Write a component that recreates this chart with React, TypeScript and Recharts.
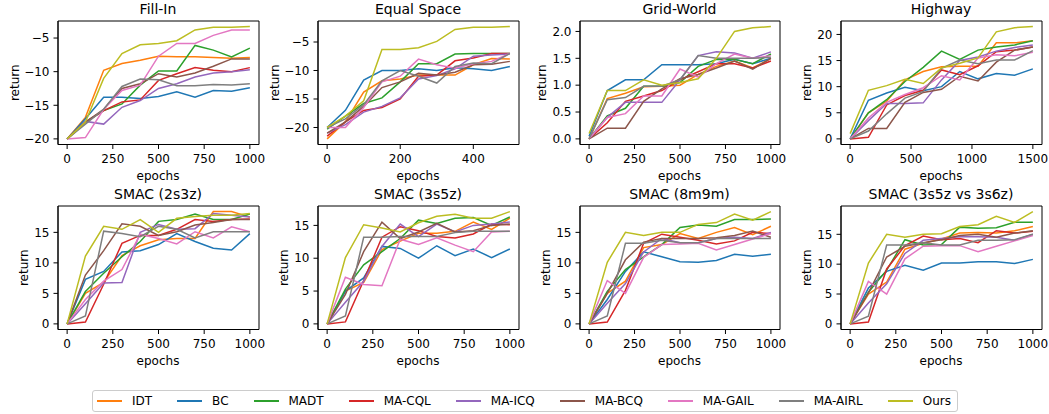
import React from "react";
import { LineChart, Line, XAxis, YAxis, ReferenceArea } from "recharts";

const METHODS = ["IDT", "BC", "MADT", "MA-CQL", "MA-ICQ", "MA-BCQ", "MA-GAIL", "MA-AIRL", "Ours"];
const COLORS = ["#ff7f0e", "#1f77b4", "#2ca02c", "#d62728", "#9467bd", "#8c564b", "#e377c2", "#7f7f7f", "#bcbd22"];

const EPOCHS_1000 = [0, 100, 200, 300, 400, 500, 600, 700, 800, 900, 1000];
const EPOCHS_500 = [0, 50, 100, 150, 200, 250, 300, 350, 400, 450, 500];
const EPOCHS_1500 = [0, 150, 300, 450, 600, 750, 900, 1050, 1200, 1350, 1500];

const X_TICKS_1000 = [0, 250, 500, 750, 1000];
const X_TICKS_500 = [0, 200, 400];
const X_TICKS_1500 = [0, 500, 1000, 1500];
const Y_TICKS_NEG = [-20, -15, -10, -5];
const Y_TICKS_GRID = [0, 0.5, 1, 1.5, 2];
const Y_TICKS_HIGHWAY = [0, 5, 10, 15, 20];
const Y_TICKS_SMAC = [0, 5, 10, 15];

// series order follows METHODS
const FILL_IN = [
  [-20, -16.8, -9.8, -8.8, -8.3, -7.7, -7.8, -7.8, -7.9, -8.0, -7.9],
  [-20, -17, -13.8, -13.8, -14, -13.7, -13, -13.8, -12.8, -12.9, -12.4],
  [-20, -17.5, -15.8, -14.8, -12, -9.9, -9.9, -6.1, -6.8, -7.8, -6.5],
  [-20, -17.5, -15.8, -14.5, -14.2, -11.3, -10.3, -9.4, -9.8, -10, -9.4],
  [-20, -17.4, -17.8, -15.3, -14.3, -12.5, -11.8, -10.8, -10.2, -10, -9.7],
  [-20, -17.5, -15.6, -12.5, -11.8, -10.3, -10.8, -10.2, -9.2, -8.1, -8.1],
  [-20, -19.8, -15.6, -12.8, -12, -7.7, -5.8, -5.8, -4.6, -3.8, -3.8],
  [-20, -17.8, -15.6, -12.2, -11.1, -11.2, -12.1, -12.1, -11.9, -12, -11.8],
  [-20, -17.5, -11, -7.3, -6, -5.8, -5.4, -3.8, -3.4, -3.4, -3.3],
];

const EQUAL_SPACE = [
  [-22, -19, -13.8, -11.8, -11.5, -10.8, -10.8, -10.8, -9, -7.9, -8],
  [-20, -17, -11.7, -10, -10, -9.7, -10, -9.5, -9.7, -10, -9.3],
  [-20.3, -18, -15.8, -14.8, -12, -8.8, -8.8, -7.1, -7, -7, -7],
  [-21.5, -19, -17, -16.5, -15, -11, -10.8, -8.3, -7.8, -7, -7],
  [-21, -19.5, -17.3, -16.3, -14.8, -11.5, -10.9, -9.7, -7.5, -7.3, -7.1],
  [-21, -19, -16.3, -13, -12, -10.5, -10.8, -10.3, -9, -8.9, -8.4],
  [-20, -20, -16.5, -12, -11, -8, -9, -9.6, -8.8, -8.4, -7],
  [-20, -18.5, -16, -11.8, -10, -11, -12.2, -9.3, -8.7, -8.8, -7],
  [-20, -18, -15.3, -6.3, -6.3, -6, -4.9, -2.8, -2.4, -2.4, -2.3],
];

const GRID_WORLD = [
  [0, 0.75, 0.85, 0.97, 0.98, 1.0, 1.2, 1.35, 1.45, 1.32, 1.5],
  [0.05, 0.9, 1.1, 1.1, 1.38, 1.38, 1.38, 1.4, 1.48, 1.4, 1.5],
  [0, 0.43, 0.57, 0.98, 0.98, 1.05, 1.35, 1.48, 1.48, 1.4, 1.58],
  [0, 0.3, 0.7, 0.8, 0.9, 1.1, 1.25, 1.4, 1.4, 1.32, 1.45],
  [0, 0.4, 0.68, 0.68, 0.68, 1.1, 1.55, 1.62, 1.6, 1.5, 1.62],
  [0, 0.2, 0.2, 0.7, 0.93, 1.12, 1.2, 1.32, 1.45, 1.3, 1.5],
  [0, 0.4, 0.47, 0.8, 0.8, 1.3, 1.15, 1.4, 1.58, 1.5, 1.55],
  [0, 0.73, 0.77, 0.98, 0.98, 1.1, 1.55, 1.5, 1.5, 1.5, 1.52],
  [0.1, 0.9, 0.9, 1.1, 1.0, 1.05, 1.12, 1.5, 2.0, 2.07, 2.09],
];

const HIGHWAY = [
  [0, 5, 7.2, 11.3, 12.9, 13.8, 13.9, 13.9, 18.4, 18.4, 18.8],
  [0, 7.4, 8.8, 9.9, 9.2, 10, 12.9, 11.5, 12.5, 12.2, 13.4],
  [0, 5, 7.5, 11, 13.7, 16.8, 15.2, 17, 17.6, 18, 18.8],
  [0, 0.3, 6.5, 8.3, 9.3, 13.2, 12.3, 14, 16.7, 17, 17.6],
  [0, 3.5, 6.8, 6.8, 6.9, 11.3, 15, 15.7, 16.8, 17.5, 18],
  [0, 2, 2, 7, 8.9, 9.5, 12, 11.1, 14.7, 17, 17.6],
  [0, 4, 7, 8.5, 9.8, 12.1, 11.3, 15.5, 16.1, 15.9, 16.6],
  [0, 1.5, 4.8, 7.8, 9.1, 13.5, 15.1, 14.4, 15.1, 15.1, 16.9],
  [1, 9.3, 10.2, 11.4, 10.6, 13.6, 14.5, 15.5, 20.5, 21.3, 21.5],
];

const SMAC_2S3Z = [
  [0, 5, 6.8, 11.2, 12.8, 13.8, 14, 14, 18.4, 18.4, 17.5],
  [0, 7.3, 8.6, 11.8, 12, 13, 14.8, 13.5, 12.4, 12.1, 14.8],
  [0, 5.3, 8.3, 11, 13.5, 16.8, 17.1, 18, 17.1, 17.1, 18],
  [0, 0.3, 6.5, 13.2, 14.5, 14.5, 15.5, 17.1, 16.8, 17.1, 17.2],
  [0, 3.3, 6.7, 6.8, 15, 16.3, 15.5, 15.6, 18.1, 17.8, 17.5],
  [0, 8, 12, 16.4, 16, 14.5, 15.1, 16.2, 16.6, 17.1, 17.1],
  [0, 4, 7, 8.9, 14.7, 14, 13.1, 15.1, 14.1, 15.9, 15.1],
  [0, 1.3, 15.2, 14.8, 14.3, 16, 15.5, 14.1, 15.1, 15.1, 15.1],
  [0, 11.1, 16, 15.5, 17.1, 15, 17.3, 17.6, 17.8, 17.8, 18.1],
];

const SMAC_3S5Z = [
  [0, 5, 6.3, 11.3, 12.6, 13.8, 13.8, 14.1, 15.5, 14.4, 16.1],
  [0, 5, 7, 11.8, 11.5, 10, 11.9, 10.4, 11.4, 10.1, 11.4],
  [0, 5.3, 9, 11, 13, 15.8, 15.3, 16.1, 16.2, 15, 16.3],
  [0, 0.3, 6.6, 13.2, 14.8, 14.2, 13.3, 13.1, 13.7, 15.2, 15.1],
  [0, 3.3, 6.5, 11.8, 15.2, 13.3, 15.2, 14, 15, 15.2, 15.5],
  [0, 4.5, 11, 15.5, 13, 14, 15.3, 14, 14.2, 15, 15.2],
  [0, 7.1, 6, 5.8, 12.9, 12.1, 13.1, 12, 11, 14, 14.1],
  [0, 1.2, 13.2, 13.2, 13.3, 13.3, 13.3, 13.9, 14.1, 14.1, 14.1],
  [0, 10.1, 15.1, 14.6, 14, 15.4, 16.4, 16.7, 16.1, 16.1, 17.1],
];

const SMAC_8M9M = [
  [0, 5, 7, 12.5, 13, 14.8, 14, 15, 15.8, 14.6, 16],
  [0, 4, 8.6, 11.8, 11, 10.2, 10.1, 10.4, 11.4, 11.1, 11.4],
  [0, 5.3, 8.9, 11, 13, 15.8, 16.2, 16, 17.1, 17.1, 17.2],
  [0, 0.3, 5.5, 13.2, 14.7, 14.2, 13.7, 13.1, 13.6, 15, 14.8],
  [0, 3.4, 6.6, 11.8, 14, 13.3, 13.3, 14, 14.2, 14, 15],
  [0, 5, 10.5, 13.4, 14, 14, 14, 14.1, 14.5, 15.2, 14.2],
  [0, 7.1, 5, 10.9, 13, 13.1, 13.2, 12.1, 13, 13.9, 14.8],
  [0, 1.3, 13.2, 13.2, 13.7, 13.3, 13.3, 14, 14, 14, 14],
  [0, 10.1, 15, 14.5, 15, 15, 16.3, 16.6, 18, 17, 18.4],
];

const SMAC_3S5Z_3S6Z = [
  [0, 5, 7, 12.5, 13.5, 14.2, 15.2, 15.3, 15.2, 15.6, 16.3],
  [0, 6, 8.8, 9.8, 9, 10.2, 10.2, 10.4, 10.4, 10.1, 10.8],
  [0, 5.3, 9, 14.1, 13.2, 13.3, 16.2, 16, 16.1, 17, 17],
  [0, 0.3, 9.2, 13.1, 14.7, 14.1, 14.3, 13.6, 15.6, 15.2, 15.5],
  [0, 3.5, 6.7, 11.8, 14, 14.3, 14.6, 14.6, 14.5, 14, 15],
  [0, 5.2, 11.2, 13, 13.6, 14.1, 14.8, 15, 14.5, 15.2, 15.6],
  [0, 7.1, 5, 10.9, 13, 13.1, 13.1, 12.1, 13, 13.9, 14.8],
  [0, 1.3, 13.2, 13.2, 13.6, 13.2, 13.2, 14, 14, 14.1, 15],
  [0, 10.2, 15, 14.5, 15, 15.1, 16.3, 16.6, 18, 17, 18.8],
];

const FONT = "'DejaVu Sans', sans-serif";
const minusFmt = (v: number) => (v < 0 ? "\u2212" + Math.abs(v) : String(v));
const oneDecFmt = (v: number) => v.toFixed(1);

const COL_LEFT = [57.5, 317.5, 579.5, 840.5];
const COL_WIDTH = [201, 201, 200, 201];
const ROW_TOP = [21, 206];
const PLOT_H = 123.5;

const PANELS = [
  { title: "Fill-In", xs: EPOCHS_1000, ys: FILL_IN, xTicks: X_TICKS_1000, yTicks: Y_TICKS_NEG, fmt: minusFmt, row: 0, col: 0, labelOff: 39 },
  { title: "Equal Space", xs: EPOCHS_500, ys: EQUAL_SPACE, xTicks: X_TICKS_500, yTicks: Y_TICKS_NEG, fmt: minusFmt, row: 0, col: 1, labelOff: 39 },
  { title: "Grid-World", xs: EPOCHS_1000, ys: GRID_WORLD, xTicks: X_TICKS_1000, yTicks: Y_TICKS_GRID, fmt: oneDecFmt, row: 0, col: 2, labelOff: 33.5 },
  { title: "Highway", xs: EPOCHS_1500, ys: HIGHWAY, xTicks: X_TICKS_1500, yTicks: Y_TICKS_HIGHWAY, fmt: minusFmt, row: 0, col: 3, labelOff: 29.5 },
  { title: "SMAC (2s3z)", xs: EPOCHS_1000, ys: SMAC_2S3Z, xTicks: X_TICKS_1000, yTicks: Y_TICKS_SMAC, fmt: minusFmt, row: 1, col: 0, labelOff: 30 },
  { title: "SMAC (3s5z)", xs: EPOCHS_1000, ys: SMAC_3S5Z, xTicks: X_TICKS_1000, yTicks: Y_TICKS_SMAC, fmt: minusFmt, row: 1, col: 1, labelOff: 30 },
  { title: "SMAC (8m9m)", xs: EPOCHS_1000, ys: SMAC_8M9M, xTicks: X_TICKS_1000, yTicks: Y_TICKS_SMAC, fmt: minusFmt, row: 1, col: 2, labelOff: 30 },
  { title: "SMAC (3s5z vs 3s6z)", xs: EPOCHS_1000, ys: SMAC_3S5Z_3S6Z, xTicks: X_TICKS_1000, yTicks: Y_TICKS_SMAC, fmt: minusFmt, row: 1, col: 3, labelOff: 30 },
];

function padded(lo: number, hi: number): [number, number] {
  const m = (hi - lo) * 0.05;
  return [lo - m, hi + m];
}

const YW = 50;
const TOPM = 6;
const RIGHTM = 6;
const XH = 30;

function Panel({ p }: { p: (typeof PANELS)[number] }) {
  const rows = p.xs.map((x, i) => {
    const r: Record<string, number> = { x };
    p.ys.forEach((s, k) => (r[`s${k}`] = s[i]));
    return r;
  });
  const all = p.ys.flat();
  const xd = padded(Math.min(...p.xs), Math.max(...p.xs));
  const yd = padded(Math.min(...all), Math.max(...all));
  const w = COL_WIDTH[p.col];
  const tick = { fontSize: 12, fill: "#000", fontFamily: FONT };
  return (
    <div style={{ position: "absolute", left: COL_LEFT[p.col] - YW, top: ROW_TOP[p.row] - TOPM }}>
      <LineChart
        width={YW + w + RIGHTM}
        height={TOPM + PLOT_H + XH}
        data={rows}
        margin={{ top: TOPM, right: RIGHTM, left: 0, bottom: 0 }}
      >
        <XAxis
          dataKey="x"
          type="number"
          domain={xd}
          allowDataOverflow
          ticks={p.xTicks}
          interval={0}
          height={XH}
          tick={tick}
          tickSize={4.5}
          tickMargin={5}
          tickLine={{ stroke: "#000" }}
          axisLine={{ stroke: "#000" }}
        />
        <YAxis
          type="number"
          domain={yd}
          allowDataOverflow
          ticks={p.yTicks}
          interval={0}
          width={YW}
          tick={tick}
          tickFormatter={p.fmt}
          tickSize={4.5}
          tickMargin={4}
          tickLine={{ stroke: "#000" }}
          axisLine={{ stroke: "#000" }}
        />
        {METHODS.map((m, i) => (
          <Line
            key={m}
            type="linear"
            dataKey={`s${i}`}
            name={m}
            stroke={COLORS[i]}
            strokeWidth={1.5}
            dot={false}
            isAnimationActive={false}
          />
        ))}
        <ReferenceArea
          x1={xd[0]}
          x2={xd[1]}
          y1={yd[0]}
          y2={yd[1]}
          fill="none"
          stroke="#000"
          strokeWidth={1}
          ifOverflow="visible"
        />
      </LineChart>
    </div>
  );
}

function Texts() {
  return (
    <svg
      width={1049}
      height={414}
      style={{ position: "absolute", left: 0, top: 0, pointerEvents: "none" }}
      fontFamily={FONT}
    >
      {PANELS.map((p) => {
        const left = COL_LEFT[p.col];
        const cx = left + COL_WIDTH[p.col] / 2;
        const top = ROW_TOP[p.row];
        const cy = top + PLOT_H / 2;
        const lx = left - p.labelOff;
        return (
          <g key={p.title}>
            <text x={cx} y={top - 7} textAnchor="middle" fontSize={14} fill="#000">
              {p.title}
            </text>
            <text x={cx} y={top + 158.5} textAnchor="middle" fontSize={12} fill="#000">
              epochs
            </text>
            <text
              x={lx}
              y={cy}
              textAnchor="middle"
              fontSize={12}
              fill="#000"
              transform={`rotate(-90 ${lx} ${cy})`}
            >
              return
            </text>
          </g>
        );
      })}
    </svg>
  );
}

function LegendBox() {
  return (
    <div
      style={{
        position: "absolute",
        left: 92,
        top: 390,
        height: 22,
        boxSizing: "border-box",
        border: "1px solid #cccccc",
        borderRadius: 3,
        background: "rgba(255,255,255,0.8)",
        display: "flex",
        alignItems: "center",
        gap: 25,
        paddingLeft: 4,
        paddingRight: 6,
        fontFamily: FONT,
        fontSize: 12,
        color: "#000",
        whiteSpace: "nowrap",
      }}
    >
      {METHODS.map((m, i) => (
        <div key={m} style={{ display: "flex", alignItems: "center" }}>
          <div style={{ width: 25, height: 2, background: COLORS[i], marginRight: 10 }} />
          <span>{m}</span>
        </div>
      ))}
    </div>
  );
}

export default function App() {
  return (
    <div
      style={{
        position: "absolute",
        left: 0,
        top: 0,
        width: 1049,
        height: 414,
        background: "#fff",
        fontFamily: FONT,
        overflow: "hidden",
      }}
    >
      {PANELS.map((p) => (
        <Panel key={p.title} p={p} />
      ))}
      <Texts />
      <LegendBox />
    </div>
  );
}
